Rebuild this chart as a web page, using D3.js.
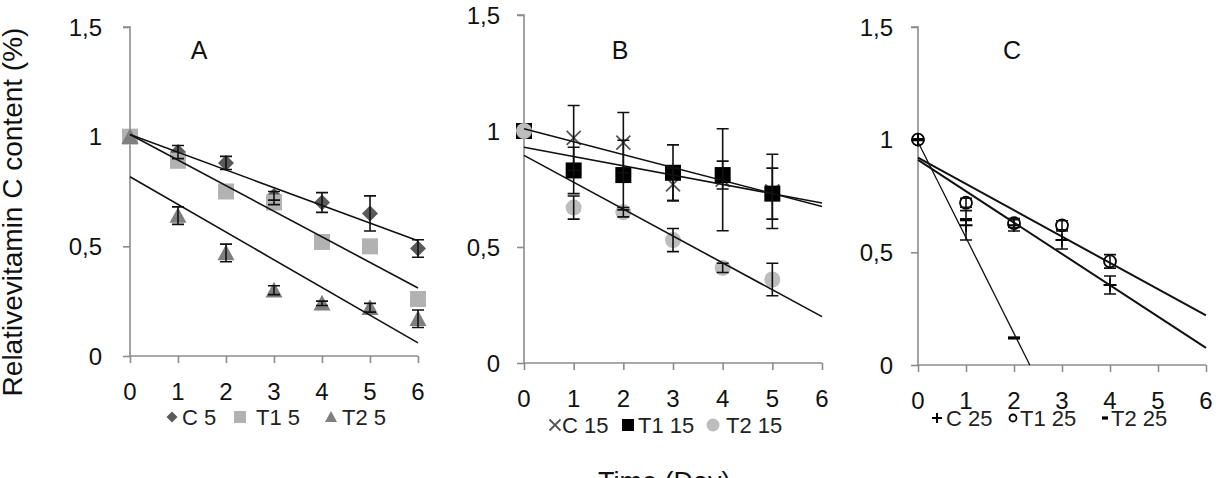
<!DOCTYPE html>
<html><head><meta charset="utf-8">
<script src="https://cdn.jsdelivr.net/npm/d3@7"></script>
<style>
html,body{margin:0;padding:0;background:#fff;}
svg{display:block;font-family:"Liberation Sans",Arial,sans-serif;}
</style></head>
<body>
<svg id="chart" width="1230" height="478"></svg>
<script>
// ---------------- DATA ----------------
const xTicks = [0,1,2,3,4,5,6];
const yTicks = [0,0.5,1,1.5];
const yTickLabels = ["0","0,5","1","1,5"];
const yTitle = "Relativevitamin C content (%)";
const xTitle = "Time (Day)";
const panelLabels = ["A","B","C"];

// Panel A (5 °C)
const aDays = [0,1,2,3,4,5,6];
const aC5 = [1.00,0.93,0.88,0.73,0.70,0.65,0.49];
const aC5Err = [0,0.03,0.03,0.02,0.045,0.08,0.04];
const aT15 = [1.00,0.89,0.75,0.70,0.52,0.50,0.26];
const aT15Err = [0,0,0,0.01,0,0,0];
const aT25 = [1.00,0.64,0.47,0.30,0.24,0.22,0.17];
const aT25Err = [0,0.04,0.04,0.02,0.01,0.02,0.04];
const aTrendStart = [1.01,1.01,0.817];   // value at day 0
const aTrendEnd = [0.525,0.31,0.06];     // value at day 6

// Panel B (15 °C)
const bDays = [0,1,2,3,4,5];
const bC15 = [1.00,0.97,0.95,0.77,0.79,0.74];
const bC15Err = [0,0.14,0.13,0.07,0.22,0.16];
const bT115 = [1.00,0.83,0.81,0.82,0.81,0.73];
const bT115Err = [0,0.10,0.15,0.12,0.06,0.11];
const bT215 = [1.00,0.67,0.65,0.53,0.41,0.36];
const bT215Err = [0,0.05,0.02,0.05,0.02,0.07];
const bTrendStart = [1.01,0.93,0.895];
const bTrendEnd = [0.675,0.69,0.20];

// Panel C (25 °C)
const cDays = [0,1,2,3,4];
const cC25 = [1.00,0.62,0.62,0.555,0.355];
const cC25Err = [0,0.065,0.025,0.04,0.04];
const cT125 = [1.00,0.72,0.63,0.62,0.46];
const cT125Err = [0,0.02,0.02,0.02,0.03];
const cT2Days = [0,1,2];
const cT225 = [1.00,0.645,0.12];
const cT225Err = [0,0,0];
const cTrendStart = [0.91,0.92,0.99];
const cTrendSlope = [-0.139,-0.1167,-0.425];

const legendA = ["C 5","T1 5","T2 5"];
const legendB = ["C 15","T1 15","T2 15"];
const legendC = ["C 25","T1 25","T2 25"];

// ---------------- LAYOUT ----------------
const panels = [
  {label:panelLabels[0], x0:130, x1:418, yTop:27, yBot:356, labelX:199, legendY:417, tickGap:28,
   series:[
     {days:aDays, vals:aC5, err:aC5Err, mk:"diamond", color:"#595959", size:16},
     {days:aDays, vals:aT15, err:aT15Err, mk:"square", color:"#b2b2b2", size:16},
     {days:aDays, vals:aT25, err:aT25Err, mk:"triangle", color:"#7f7f7f", size:17}
   ],
   trends: aTrendStart.map((s,i)=>({start:s, slope:(aTrendEnd[i]-s)/6, w:1.6})),
   legend:{names:legendA, xs:[172,240,331], gap:[10,16,11], msize:[11,12,12]}
  },
  {label:panelLabels[1], x0:524, x1:822, yTop:15, yBot:363, labelX:620, legendY:425, tickGap:24,
   series:[
     {days:bDays, vals:bC15, err:bC15Err, mk:"x", color:"#555555", size:14},
     {days:bDays, vals:bT115, err:bT115Err, mk:"square", color:"#000000", size:16},
     {days:bDays, vals:bT215, err:bT215Err, mk:"circle", color:"#bdbdbd", size:16}
   ],
   trends: bTrendStart.map((s,i)=>({start:s, slope:(bTrendEnd[i]-s)/6, w:1.6})),
   legend:{names:legendB, xs:[555,628,713], gap:[7,10,13], msize:[11,12,13]}
  },
  {label:panelLabels[2], x0:918, x1:1206, yTop:27, yBot:365, labelX:1012, legendY:418, tickGap:25,
   series:[
     {days:cDays, vals:cC25, err:cC25Err, mk:"plus", color:"#000", size:13},
     {days:cDays, vals:cT125, err:cT125Err, mk:"ocircle", color:"#000", size:14},
     {days:cT2Days, vals:cT225, err:cT225Err, mk:"dash", color:"#000", size:12}
   ],
   trends: cTrendStart.map((s,i)=>({start:s, slope:cTrendSlope[i], w:i===2?1.3:2})),
   legend:{names:legendC, xs:[937,1013,1105], gap:[9,7,6], msize:[10,9,6]}
  }
];

const svg = d3.select("#chart");
const axisColor = "#8c8c8c";

function drawMarker(g, type, x, y, s, color){
  const h = s/2;
  switch(type){
    case "diamond":
      g.append("path").attr("d",`M${x},${y-h}L${x+h},${y}L${x},${y+h}L${x-h},${y}Z`).attr("fill",color); break;
    case "square":
      g.append("rect").attr("x",x-h).attr("y",y-h).attr("width",s).attr("height",s).attr("fill",color); break;
    case "triangle":
      g.append("path").attr("d",`M${x},${y-h}L${x+h},${y+h*0.85}L${x-h},${y+h*0.85}Z`).attr("fill",color); break;
    case "x":
      g.append("path").attr("d",`M${x-h},${y-h}L${x+h},${y+h}M${x-h},${y+h}L${x+h},${y-h}`).attr("stroke",color).attr("stroke-width",1.8).attr("fill","none"); break;
    case "circle":
      g.append("circle").attr("cx",x).attr("cy",y).attr("r",h).attr("fill",color); break;
    case "plus":
      g.append("path").attr("d",`M${x-h},${y}L${x+h},${y}M${x},${y-h}L${x},${y+h}`).attr("stroke",color).attr("stroke-width",2).attr("fill","none"); break;
    case "ocircle":
      g.append("circle").attr("cx",x).attr("cy",y).attr("r",h-1).attr("fill","none").attr("stroke",color).attr("stroke-width",1.8); break;
    case "dash":
      g.append("rect").attr("x",x-h).attr("y",y-1.6).attr("width",s).attr("height",3.2).attr("fill",color); break;
  }
}

panels.forEach(p=>{
  const x = d3.scaleLinear().domain([0,6]).range([p.x0,p.x1]);
  const y = d3.scaleLinear().domain([0,1.5]).range([p.yBot,p.yTop]);
  const g = svg.append("g");

  // axes
  const ya = g.append("g").attr("transform",`translate(${p.x0},0)`)
    .call(d3.axisLeft(y).tickValues(yTicks).tickSize(7).tickFormat(""));
  const xa = g.append("g").attr("transform",`translate(0,${p.yBot})`)
    .call(d3.axisBottom(x).tickValues(xTicks).tickSize(7).tickFormat(""));
  [ya,xa].forEach(a=>{
    a.selectAll("path").attr("stroke",axisColor).attr("stroke-width",1.6);
    a.selectAll("line").attr("stroke",axisColor).attr("stroke-width",1.6);
  });
  ya.select("path").attr("d",`M-7,${y(1.5)}H0V${y(0)}`);
  xa.select("path").attr("d",`M${p.x0},0H${p.x1}`);

  // tick labels
  yTicks.forEach((v,i)=>{
    g.append("text").attr("x",p.x0-p.tickGap).attr("y",y(v)+8.5)
      .attr("text-anchor","end").attr("font-size",24).attr("fill","#111").text(yTickLabels[i]);
  });
  xTicks.forEach(v=>{
    g.append("text").attr("x",x(v)).attr("y",p.yBot+44)
      .attr("text-anchor","middle").attr("font-size",24).attr("fill","#111").text(v);
  });

  // panel label
  g.append("text").attr("x",p.labelX).attr("y",59).attr("text-anchor","middle")
    .attr("font-size",25).attr("fill","#111").text(p.label);

  // markers
  p.series.forEach(s=>{
    s.days.forEach((d,i)=>drawMarker(g,s.mk,x(d),y(s.vals[i]),s.size,s.color));
  });

  // trend lines
  p.trends.forEach(t=>{
    let dEnd = 6;
    const zero = -t.start/t.slope;
    if (zero < 6) dEnd = zero;
    g.append("line").attr("x1",x(0)).attr("y1",y(t.start))
      .attr("x2",x(dEnd)).attr("y2",y(t.start+t.slope*dEnd))
      .attr("stroke","#111").attr("stroke-width",t.w);
  });

  // error bars
  p.series.forEach(s=>{
    s.days.forEach((d,i)=>{
      const e = s.err[i];
      if (!e) return;
      const cx = x(d), t = y(s.vals[i]+e), b = y(s.vals[i]-e);
      g.append("path").attr("d",`M${cx},${t}V${b}M${cx-6},${t}H${cx+6}M${cx-6},${b}H${cx+6}`)
        .attr("stroke","#111").attr("stroke-width",1.6).attr("fill","none");
    });
  });

  // legend
  p.series.forEach((s,i)=>{
    const lx = p.legend.xs[i];
    drawMarker(g,s.mk,lx,p.legendY,p.legend.msize[i],s.color);
    g.append("text").attr("x",lx+p.legend.gap[i]).attr("y",p.legendY+8)
      .attr("font-size",22).attr("fill","#222").text(p.legend.names[i]);
  });
});

// axis titles
svg.append("text").attr("transform","translate(22,212) rotate(-90)")
  .attr("text-anchor","middle").attr("font-size",28).attr("fill","#111").text(yTitle);
svg.append("text").attr("x",598).attr("y",491).attr("font-size",27).attr("fill","#111").text(xTitle);
</script>
</body></html>
